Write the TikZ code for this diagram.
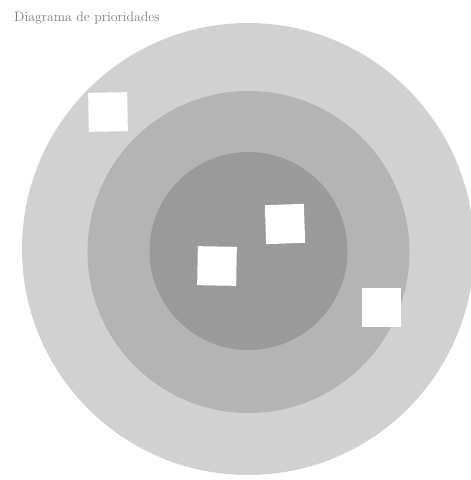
\documentclass[tikz,border=0pt]{standalone}
\definecolor{ringouter}{HTML}{D1D1D1}
\definecolor{ringmid}{HTML}{B4B4B4}
\definecolor{ringinner}{HTML}{9A9A9A}
\definecolor{titlegray}{HTML}{7F7F7F}
\tikzset{
  ring/.style={circle, inner sep=0pt, draw=none},
  card/.style={rectangle, fill=white, draw=none, minimum width=39pt, minimum height=39pt, inner sep=0pt},
}
\begin{document}
\begin{tikzpicture}[x=1pt,y=1pt]
\useasboundingbox[fill=white] (0,0) rectangle (471,-480);
\begin{scope}
\clip (0,0) rectangle (471,-480);
\node[ring, fill=ringouter, minimum size=452pt] (outer) at (248,-249) {};
\end{scope}
\node[ring, fill=ringmid, minimum size=322pt] (middle) at (248.5,-252) {};
\node[ring, fill=ringinner, minimum size=198pt] (inner) at (248.5,-251) {};
\node[anchor=west, text=titlegray, font=\fontsize{13.8}{15}\selectfont, inner sep=0pt] (title) at (14,-18) {Diagrama de prioridades};
\node[card, rotate=1] (c1) at (108,-112) {};
\node[card, rotate=2] (c2) at (285,-224) {};
\node[card, rotate=-1] (c3) at (217,-266) {};
\node[card, rotate=0] (c4) at (381,-307) {};
\end{tikzpicture}
\end{document}
